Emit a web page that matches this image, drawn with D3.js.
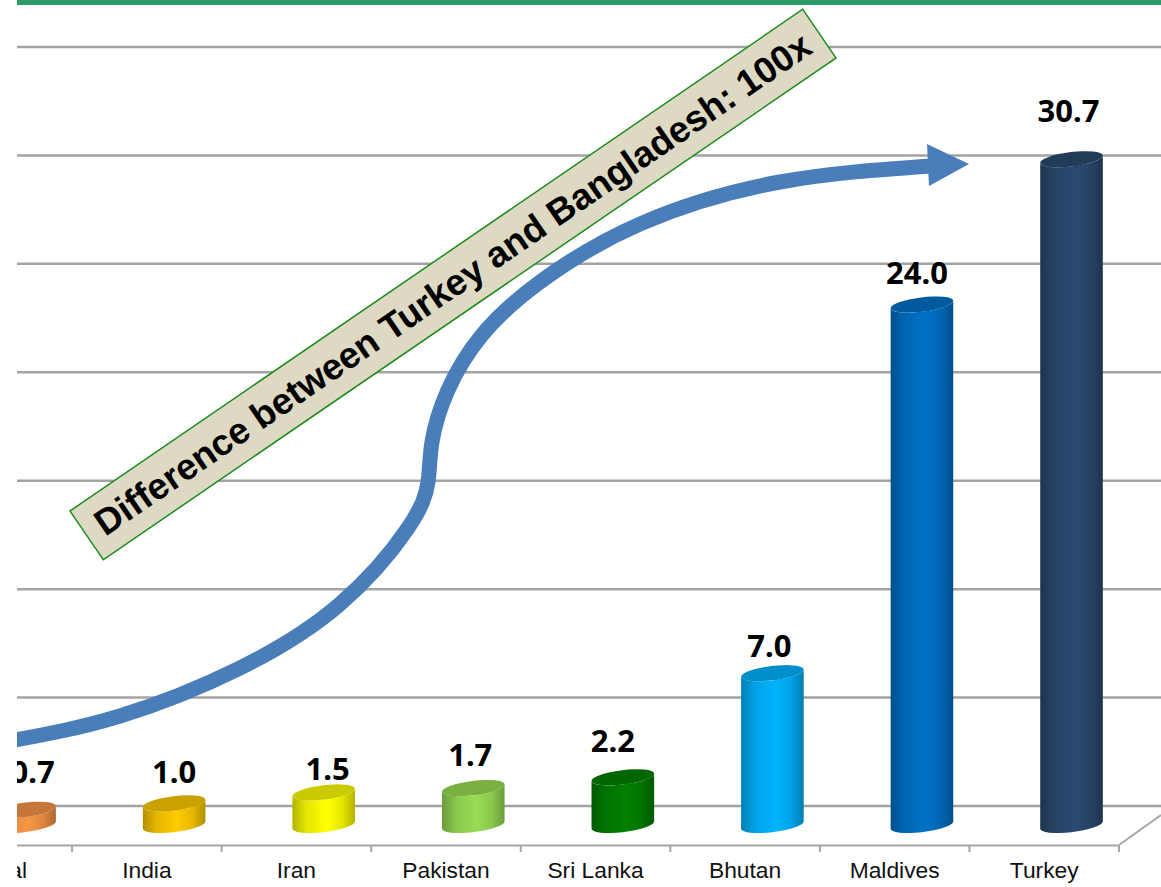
<!DOCTYPE html>
<html>
<head>
<meta charset="utf-8">
<script src="https://cdn.jsdelivr.net/npm/d3@7"></script>
<style>
  body { margin: 0; background: #fff; }
  svg { display: block; }
</style>
</head>
<body>
<div id="vis"></div>
<script>
// values
const categories = ['Nepal', 'India', 'Iran', 'Pakistan', 'Sri Lanka', 'Bhutan', 'Maldives', 'Turkey'];
const values = [0.7, 1.0, 1.5, 1.7, 2.2, 7.0, 24.0, 30.7];
const barColors = ['#f79646', '#ffcc00', '#ffff00', '#99dd55', '#008000', '#00b4ff', '#0072c6', '#2b4a70'];
const yTicks = [0, 5, 10, 15, 20, 25, 30, 35];
// the labels were placed by hand in the original, so they do not line up with the bars
const labelNudgeX = [8, 0, 4, -3, -10, -3, -5, -3];
const labelNudgeY = [10, 3, -5, 5, 8, -1, 4, 20];

const annotation = 'Difference between Turkey and Bangladesh: 100x';
const arrowPoints = [[10, 741], [120, 716], [240, 668], [340, 604], [408, 528], [428, 482], [432, 442],
  [448, 390], [482, 335], [540, 282], [640, 224], [780, 182], [932, 166]];

const width = 1161;
const height = 887;
const left = 17;
const axisY = 845;
const rx = 31.5;
const ry = 7.2;
const tilt = -7;
const edgeX = 31.3;
const edgeY = 3.6;

const svg = d3.select('#vis').append('svg')
  .attr('width', width)
  .attr('height', height);

const defs = svg.append('defs');
defs.append('clipPath').attr('id', 'plot')
  .append('rect').attr('x', left).attr('y', 0).attr('width', width - left).attr('height', height);

// green rule along the top
svg.append('rect')
  .attr('x', left).attr('y', 0)
  .attr('width', width - left).attr('height', 5)
  .attr('fill', '#2f9966');

const x = d3.scaleBand().domain(categories).range([-77.5, 1119]);
const y = d3.scaleLinear().domain([0, 35]).range([806, 47]);

const g = svg.append('g').attr('clip-path', 'url(#plot)');

// back wall gridlines
g.selectAll('line.grid')
  .data(yTicks)
  .enter()
  .append('line')
  .attr('class', 'grid')
  .attr('x1', left).attr('x2', width)
  .attr('y1', (d) => y(d)).attr('y2', (d) => y(d))
  .attr('stroke', '#a3a3a3')
  .attr('stroke-width', 2.5);

// floor edge on the right
g.append('line')
  .attr('x1', x.range()[1]).attr('y1', axisY)
  .attr('x2', width).attr('y2', 815)
  .attr('stroke', '#a6a6a6')
  .attr('stroke-width', 2);

// category axis, ticks sit on the band edges
const axis = g.append('g')
  .attr('transform', 'translate(0,' + axisY + ')')
  .call(d3.axisBottom(x).tickSize(0).tickPadding(17));
axis.select('.domain').attr('stroke', '#a6a6a6').attr('stroke-width', 2);
axis.selectAll('text')
  .style('font-family', '"Liberation Sans"')
  .style('font-size', '22.8px')
  .attr('fill', '#111');
axis.selectAll('line.edge')
  .data(categories)
  .enter()
  .append('line')
  .attr('class', 'edge')
  .attr('x1', (d) => x(d) + x.bandwidth()).attr('x2', (d) => x(d) + x.bandwidth())
  .attr('y1', 0).attr('y2', 7)
  .attr('stroke', '#a6a6a6')
  .attr('stroke-width', 2);

// side shading for each cylinder
barColors.forEach((c, i) => {
  const grad = defs.append('linearGradient').attr('id', 'side' + i)
    .attr('x1', 0).attr('x2', 1).attr('y1', 0).attr('y2', 0);
  const dark = d3.color(c).darker(1).formatHex();
  const mid = d3.color(c).darker(0.3).formatHex();
  grad.append('stop').attr('offset', '0%').attr('stop-color', dark);
  grad.append('stop').attr('offset', '22%').attr('stop-color', mid);
  grad.append('stop').attr('offset', '55%').attr('stop-color', c);
  grad.append('stop').attr('offset', '80%').attr('stop-color', mid);
  grad.append('stop').attr('offset', '100%').attr('stop-color', dark);
});

const cx = (d) => x(d) + x.bandwidth() / 2 + 27.3;
const floorShift = 19; // cylinders stand in front of the back wall

function sidePath(i) {
  const top = y(values[i]) + floorShift;
  const base = y(0) + floorShift;
  return 'M' + (-edgeX) + ',' + (top + edgeY) +
    'L' + (-edgeX) + ',' + (base + edgeY) +
    'A' + rx + ',' + ry + ' ' + tilt + ' 0 0 ' + edgeX + ',' + (base - edgeY) +
    'L' + edgeX + ',' + (top - edgeY) +
    'A' + rx + ',' + ry + ' ' + tilt + ' 0 1 ' + (-edgeX) + ',' + (top + edgeY) + 'Z';
}

const bars = g.selectAll('g.bar')
  .data(categories)
  .enter()
  .append('g')
  .attr('class', 'bar')
  .attr('transform', (d) => 'translate(' + cx(d) + ',0)');

bars.append('path')
  .attr('d', (d, i) => sidePath(i))
  .attr('fill', (d, i) => 'url(#side' + i + ')');

bars.append('ellipse')
  .attr('rx', rx).attr('ry', ry)
  .attr('transform', (d, i) => 'translate(0,' + (y(values[i]) + floorShift) + ') rotate(' + tilt + ')')
  .attr('fill', (d, i) => d3.color(barColors[i]).darker(0.65).formatHex());

// value labels
bars.append('text')
  .attr('x', (d, i) => labelNudgeX[i])
  .attr('y', (d, i) => y(values[i]) + floorShift - 17 - labelNudgeY[i])
  .attr('text-anchor', 'middle')
  .style('font-family', '"Noto Sans"')
  .style('font-weight', 700)
  .style('font-size', '31px')
  .attr('fill', '#000')
  .text((d, i) => values[i].toFixed(1));

// big blue arrow
g.append('path')
  .attr('d', d3.line().curve(d3.curveNatural)(arrowPoints))
  .attr('fill', 'none')
  .attr('stroke', '#4a7ebb')
  .attr('stroke-width', 15);
g.append('path')
  .attr('d', 'M927,144L969,164L929,186Z')
  .attr('fill', '#4a7ebb');

// annotation banner
const banner = svg.append('g')
  .attr('transform', 'translate(453,284.5) rotate(-34.4)');
banner.append('rect')
  .attr('x', -444).attr('y', -29.5)
  .attr('width', 888).attr('height', 59)
  .attr('fill', '#ddd9c3')
  .attr('stroke', '#1e8a1e')
  .attr('stroke-width', 1.5);
banner.append('text')
  .attr('x', 0).attr('y', 12)
  .attr('text-anchor', 'middle')
  .attr('font-family', 'Liberation Sans')
  .attr('font-weight', 'bold')
  .attr('font-size', 36.6)
  .attr('fill', '#000')
  .text(annotation);
</script>
</body>
</html>
